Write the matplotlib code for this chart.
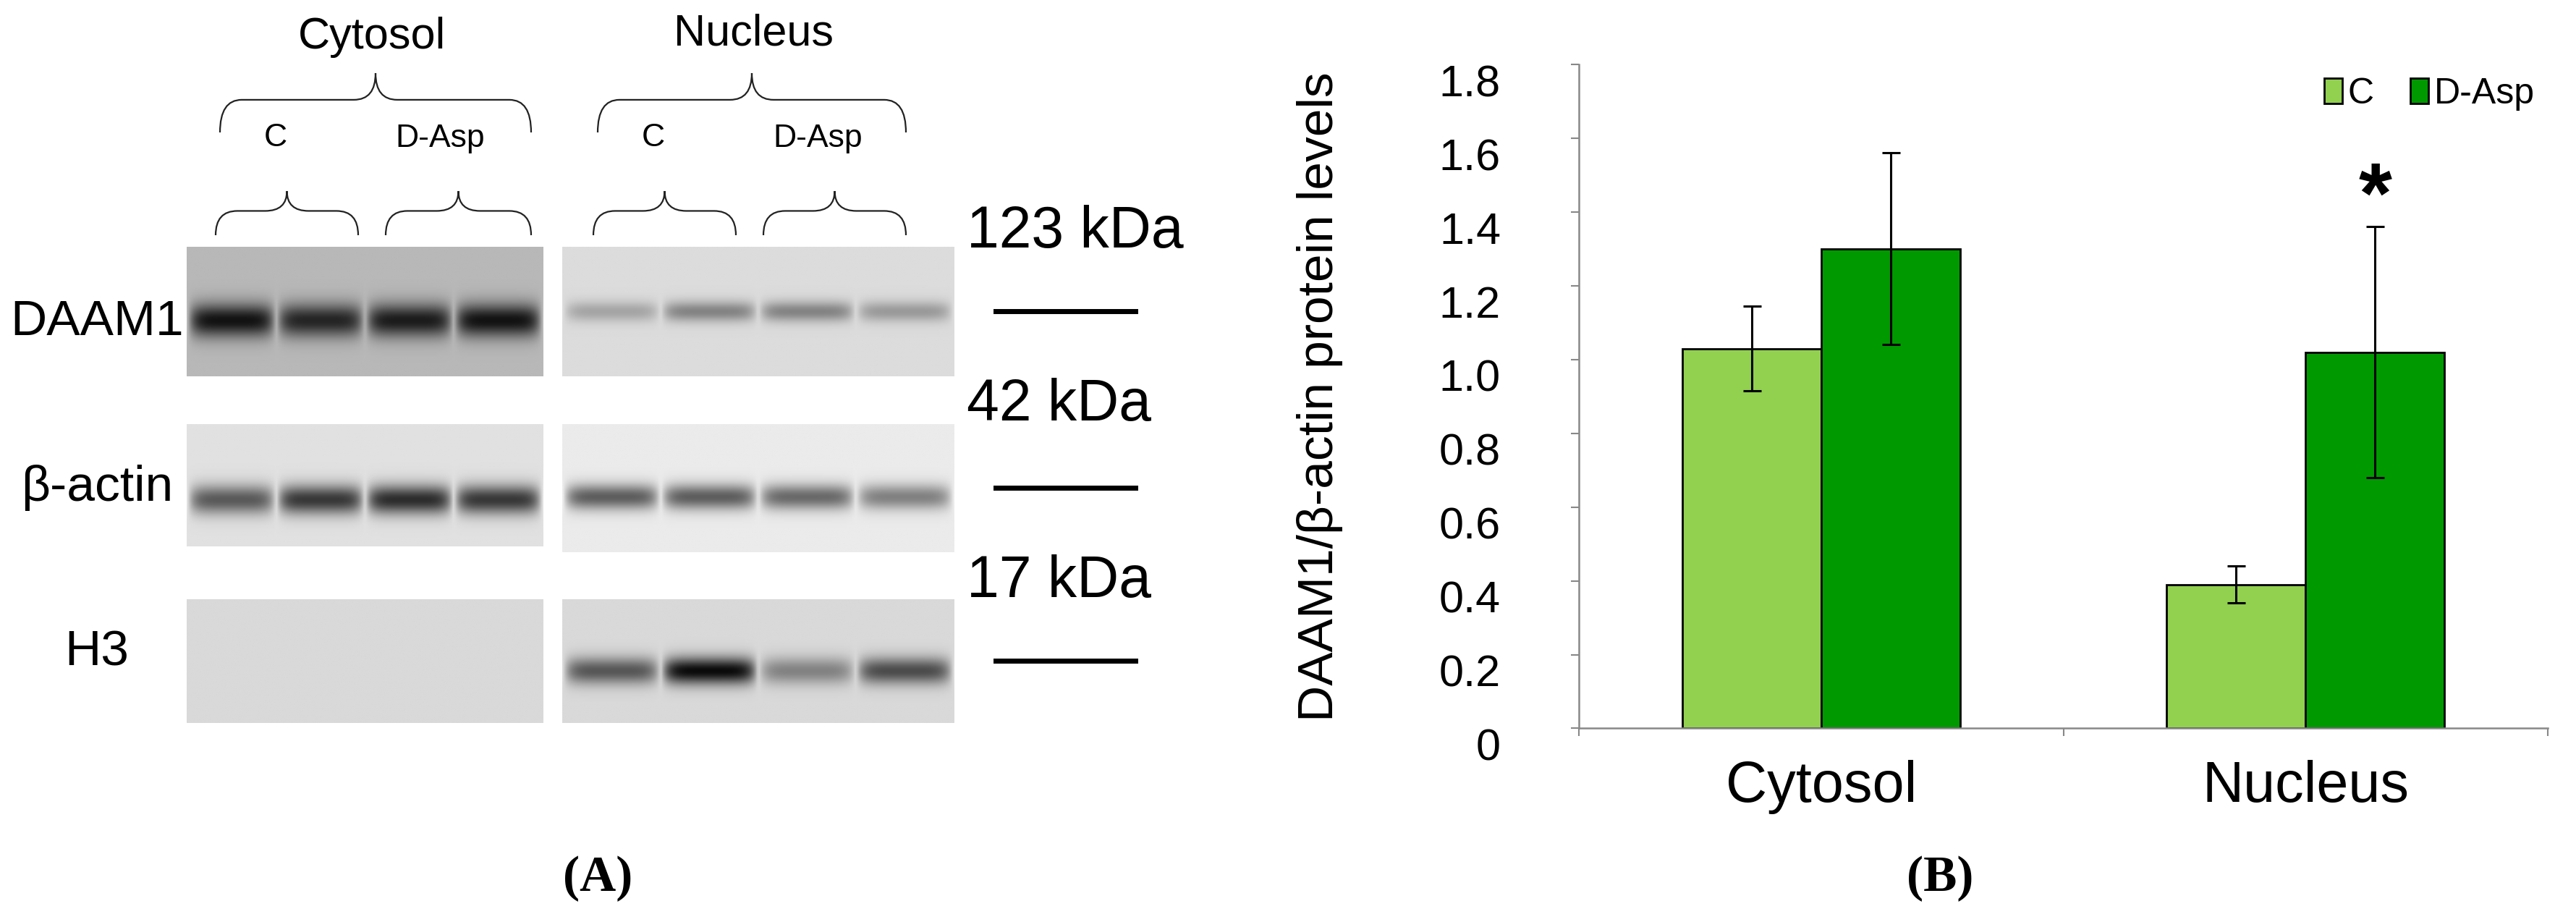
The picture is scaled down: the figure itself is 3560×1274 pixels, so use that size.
import numpy as np
import matplotlib
matplotlib.use("Agg")
import matplotlib.pyplot as plt
from matplotlib.path import Path
from matplotlib.patches import PathPatch

plt.rcParams['font.family'] = ['Liberation Sans', 'DejaVu Sans']

# ---- data (panel B) ----
categories = ["Cytosol", "Nucleus"]
series_names = ["C", "D-Asp"]
vals_C = [1.03, 0.39]
err_C = [0.115, 0.05]
vals_D = [1.30, 1.02]
err_D = [0.26, 0.34]
yticks = [0, 0.2, 0.4, 0.6, 0.8, 1.0, 1.2, 1.4, 1.6, 1.8]
ytick_labels = ["0", "0.2", "0.4", "0.6", "0.8", "1.0", "1.2", "1.4", "1.6", "1.8"]

# ---- blot band intensities (panel A), per lane ----
blot_rows = ["DAAM1", "β-actin", "H3"]
kda_labels = ["123 kDa", "42 kDa", "17 kDa"]
daam1_cyt = [0.9, 0.8, 0.85, 0.9]
daam1_nuc = [0.25, 0.4, 0.4, 0.3]
actin_cyt = [0.6, 0.75, 0.8, 0.75]
actin_nuc = [0.6, 0.6, 0.55, 0.45]
h3_cyt = [0.0, 0.0, 0.0, 0.0]
h3_nuc = [0.6, 0.95, 0.4, 0.65]

fig = plt.figure(figsize=(35.6, 12.74), dpi=100)
ov = fig.add_axes([0, 0, 1, 1])
ov.set_xlim(0, 3560); ov.set_ylim(1274, 0); ov.axis('off')

def blot(x0, x1, y0, y1, lanes, bg, band_y, band_h):
    W, H = 200, 80
    xs = np.linspace(0, 1, W); ys = np.linspace(0, 1, H)
    img = np.full((H, W), bg)
    n = len(lanes)
    for i, a in enumerate(lanes):
        cx = (i + 0.5) / n
        px = np.clip(1 - ((xs - cx) / (0.5 / n)) ** 6, 0, 1)
        py = np.exp(-((ys - band_y) / band_h) ** 2)
        img = img - a * bg * np.outer(py, px)
    ov.imshow(img, cmap='gray', vmin=0, vmax=1, extent=(x0, x1, y1, y0), aspect='auto', interpolation='bilinear')

blot(258, 751, 341, 520, daam1_cyt, 0.72, 0.57, 0.13)
blot(777, 1319, 341, 520, daam1_nuc, 0.86, 0.5, 0.08)
blot(258, 751, 586, 755, actin_cyt, 0.88, 0.62, 0.12)
blot(777, 1319, 586, 763, actin_nuc, 0.92, 0.57, 0.10)
blot(258, 751, 828, 999, h3_cyt, 0.85, 0.6, 0.12)
blot(777, 1319, 828, 999, h3_nuc, 0.85, 0.58, 0.11)

def brace(x0, x1, yt, yb, lw=1.6):
    xm = (x0 + x1) / 2; ym = yt + (yb - yt) * 0.45; d = 30
    verts = [(x0, yb), (x0, ym), (x0 + d, ym), (xm - d, ym), (xm, ym), (xm, yt),
             (xm, ym), (xm + d, ym), (x1 - d, ym), (x1, ym), (x1, yb)]
    codes = [Path.MOVETO, Path.CURVE3, Path.CURVE3, Path.LINETO, Path.CURVE3, Path.CURVE3,
             Path.CURVE3, Path.CURVE3, Path.LINETO, Path.CURVE3, Path.CURVE3]
    ov.add_patch(PathPatch(Path(verts, codes), fill=False, lw=lw, color='#222222'))

ov.text(514, 52, "Cytosol", fontsize=44, ha='center', va='center')
ov.text(1041, 47, "Nucleus", fontsize=44, ha='center', va='center')
brace(304, 734, 101, 183); brace(826, 1252, 101, 183)
ov.text(381, 190, "C", fontsize=32, ha='center', va='center')
ov.text(608, 192, "D-Asp", fontsize=32, ha='center', va='center')
ov.text(903, 190, "C", fontsize=32, ha='center', va='center')
ov.text(1130, 192, "D-Asp", fontsize=32, ha='center', va='center')
for a, b in [(298, 495), (533, 734), (820, 1017), (1055, 1252)]:
    brace(a, b, 264, 325)

for lab, y in zip(blot_rows, [445, 674, 901]):
    ov.text(134, y, lab, fontsize=50, ha='center', va='center')
for lab, y, ly in zip(kda_labels, [321, 560, 804], [430, 674, 913]):
    ov.text(1336, y, lab, fontsize=58, ha='left', va='center')
    ov.plot([1376, 1569], [ly, ly], color='black', lw=5)
ov.text(826, 1214, "(A)", fontsize=50, fontweight='bold', family='Liberation Serif', ha='center', va='center')
ov.text(2681, 1214, "(B)", fontsize=50, fontweight='bold', family='Liberation Serif', ha='center', va='center')

# ---- panel B ----
ax = fig.add_axes([0.613, 0.210, 0.376, 0.720])
ax.patch.set_alpha(0)
x = np.array([0.5, 1.5]); w = 0.287
ekw = dict(ecolor='black', elinewidth=2.2, capsize=9, capthick=2.2)
ax.bar(x - w / 2, vals_C, w, yerr=err_C, color='#92d050', edgecolor='black', lw=2, label=series_names[0], error_kw=ekw)
ax.bar(x + w / 2, vals_D, w, yerr=err_D, color='#009900', edgecolor='black', lw=2, label=series_names[1], error_kw=ekw)
ax.text(x[1] + w / 2, 1.43, "*", fontsize=85, fontweight='bold', ha='center', va='center')
ax.set_xlim(0, 2); ax.set_ylim(0, 1.8)
ax.set_yticks(yticks); ax.set_yticklabels(ytick_labels, fontsize=44, va='top')
ax.set_xticks([0, 1, 2]); ax.set_xticklabels([])
ax.tick_params(axis='x', direction='out', length=8, width=1.5, color='#888888')
ax.tick_params(axis='y', direction='out', length=8, width=1.5, color='#888888', pad=70)
for c, xc in zip(categories, x):
    ax.text(xc, -0.16, c, fontsize=57, ha='center', va='center')
for s in ['top', 'right']:
    ax.spines[s].set_visible(False)
for s in ['left', 'bottom']:
    ax.spines[s].set_color('#888888'); ax.spines[s].set_linewidth(1.8)
ax.set_ylabel("DAAM1/β-actin protein levels", fontsize=50)
ax.yaxis.set_label_coords(-0.244, 0.5)
ax.legend(loc='upper right', bbox_to_anchor=(1.02, 1.03), ncol=2, frameon=False, fontsize=36,
          handlelength=0.5, handleheight=0.7, columnspacing=1.0, handletextpad=0.15)

fig.savefig("out.png", dpi=100)
